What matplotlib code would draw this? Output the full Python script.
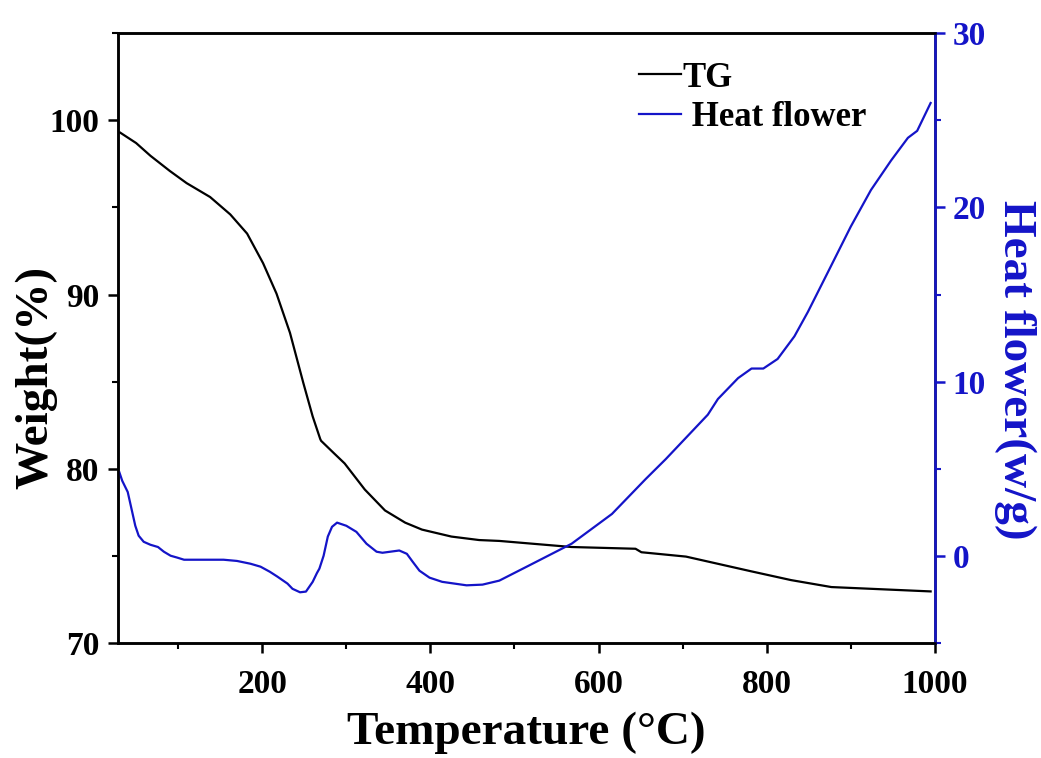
import matplotlib.pyplot as plt
from matplotlib.ticker import MultipleLocator

# TG curve (weight %, left axis)
tg_temp = [31, 50, 67, 90, 110, 138, 162, 182, 201, 217, 233, 249, 260, 269, 270, 285,
           298, 322, 346, 370, 390, 425, 458, 482, 568, 644, 651, 704, 782, 829, 877, 995]
tg_weight = [99.3, 98.7, 97.97, 97.1, 96.4, 95.6, 94.6, 93.5, 91.8, 90.05, 87.8, 84.9,
             83.0, 81.7, 81.6, 80.9, 80.3, 78.8, 77.6, 76.9, 76.5, 76.1, 75.9, 75.85,
             75.5, 75.4, 75.2, 74.95, 74.1, 73.6, 73.2, 72.95]

# heat flow curve (w/g, right axis)
hf_temp = [30, 33.5, 40, 44, 49, 53, 59, 67, 76, 83, 91, 99, 107, 130, 154, 170, 186,
           198, 209, 218, 230, 236, 245, 252, 260, 265, 268, 273, 278, 283, 289, 300,
           312, 324, 336, 343, 363, 372, 379, 387, 399, 414, 443, 462, 482, 517, 568,
           616, 656, 680, 730, 742, 766, 782, 796, 813, 833, 849, 873, 900, 924, 948,
           968, 979, 995]
hf_value = [4.8, 4.3, 3.66, 2.8, 1.72, 1.15, 0.8, 0.63, 0.5, 0.23, 0.0, -0.11, -0.23,
            -0.23, -0.23, -0.3, -0.46, -0.63, -0.92, -1.2, -1.6, -1.9, -2.1, -2.06,
            -1.5, -1.0, -0.74, 0.0, 1.1, 1.66, 1.9, 1.72, 1.37, 0.69, 0.23, 0.17, 0.3,
            0.11, -0.35, -0.86, -1.26, -1.5, -1.7, -1.66, -1.43, -0.57, 0.69, 2.4,
            4.4, 5.55, 8.1, 9.0, 10.2, 10.75, 10.75, 11.3, 12.6, 14.0, 16.3, 18.9,
            21.0, 22.7, 24.0, 24.4, 26.0]

blue = '#1414c8'
plt.rcParams['font.family'] = ['Liberation Serif', 'DejaVu Serif']
plt.rcParams['font.weight'] = 'bold'

fig = plt.figure(figsize=(10.41, 7.58), dpi=100)
ax = fig.add_axes([0.113, 0.152, 0.785, 0.804])
ax2 = ax.twinx()

l1, = ax.plot(tg_temp, tg_weight, color='black', lw=1.6, label='TG')
l2, = ax2.plot(hf_temp, hf_value, color=blue, lw=1.6, label=' Heat flower')

ax.set_xlim(28, 1000)
ax.set_ylim(70, 105)
ax2.set_ylim(-5, 30)

ax.xaxis.set_major_locator(MultipleLocator(200))
ax.xaxis.set_minor_locator(MultipleLocator(100))
ax.yaxis.set_major_locator(MultipleLocator(10))
ax.yaxis.set_minor_locator(MultipleLocator(5))
ax2.yaxis.set_major_locator(MultipleLocator(10))
ax2.yaxis.set_minor_locator(MultipleLocator(5))

for s in ax.spines.values():
    s.set_linewidth(1.8)
for s in ax2.spines.values():
    s.set_linewidth(1.8)
ax2.spines['right'].set_color(blue)

ax.tick_params(which='major', length=7, width=1.8, labelsize=24, pad=6)
ax.tick_params(axis='x', which='major', pad=12)
ax.tick_params(which='minor', length=4, width=1.5)
ax2.tick_params(axis='y', which='major', length=7, width=1.8, labelsize=24,
                colors=blue, pad=6)
ax2.tick_params(axis='y', which='minor', length=4, width=1.5, colors=blue)

ax.set_xlabel('Temperature (°C)', fontsize=34, fontweight='bold', va='center')
ax.xaxis.set_label_coords(0.5, -0.147)
ax.set_ylabel('Weight(%)', fontsize=34, fontweight='bold', va='center')
ax.yaxis.set_label_coords(-0.10, 0.436)
ax2.set_ylabel('Heat flower(w/g)', fontsize=34, fontweight='bold', color=blue,
               rotation=270, va='center')
ax2.yaxis.set_label_coords(1.098, 0.448)

ax2.legend(handles=[l1, l2], loc='upper left', bbox_to_anchor=(0.6, 1.005),
           frameon=False, fontsize=25, handlelength=1.2, handletextpad=0.05,
           labelspacing=0.2)

fig.savefig('out.png', dpi=100)
